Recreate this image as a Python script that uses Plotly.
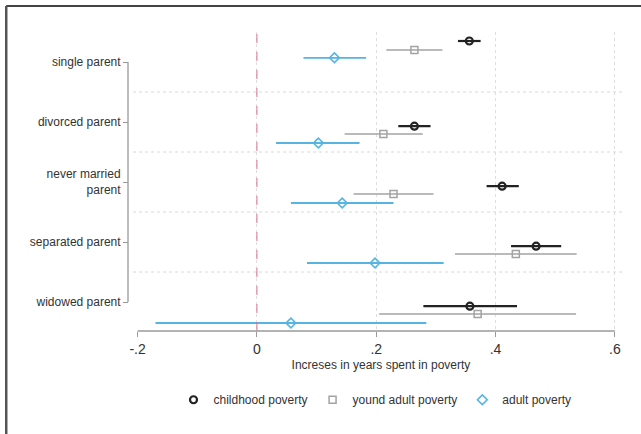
import plotly.graph_objects as go

categories = ["single parent", "divorced parent", "never married<br>parent",
              "separated parent", "widowed parent"]

child_est = [0.356, 0.264, 0.411, 0.468, 0.357]
child_lo = [0.337, 0.237, 0.385, 0.426, 0.279]
child_hi = [0.375, 0.291, 0.439, 0.510, 0.436]

young_est = [0.264, 0.212, 0.229, 0.434, 0.370]
young_lo = [0.217, 0.147, 0.162, 0.332, 0.205]
young_hi = [0.311, 0.278, 0.296, 0.536, 0.535]

adult_est = [0.130, 0.103, 0.143, 0.198, 0.057]
adult_lo = [0.078, 0.032, 0.057, 0.084, -0.170]
adult_hi = [0.183, 0.172, 0.229, 0.313, 0.284]

x_ticks = [-0.2, 0, 0.2, 0.4, 0.6]
x_tick_labels = ["-.2", "0", ".2", ".4", ".6"]

# vertical placement of each series within a category row (layout only)
child_pos = [-0.35, 1.07, 2.07, 3.07, 4.07]
young_pos = [-0.20, 1.20, 2.20, 3.20, 4.20]
adult_pos = [-0.07, 1.35, 2.35, 3.35, 4.35]

series = [
    ("childhood poverty", child_est, child_lo, child_hi, child_pos, "#222222", "circle-open", 7, 2.2, 2.2),
    ("yound adult poverty", young_est, young_lo, young_hi, young_pos, "#a3a3a3", "square-open", 7, 1.5, 1.6),
    ("adult poverty", adult_est, adult_lo, adult_hi, adult_pos, "#55b4e2", "diamond-open", 7.5, 1.6, 1.8),
]

fig = go.Figure()
for name, est, lo, hi, pos, color, sym, size, mlw, elw in series:
    fig.add_trace(go.Scatter(
        x=est, y=pos, mode="markers", name=name,
        marker=dict(symbol=sym, size=size, color=color, line=dict(color=color, width=mlw)),
        error_x=dict(type="data", symmetric=False,
                     array=[h - e for h, e in zip(hi, est)],
                     arrayminus=[e - l for e, l in zip(est, lo)],
                     color=color, thickness=elw, width=0),
    ))

shapes = []
# horizontal dotted gridlines between categories
for b in [0.5, 1.5, 2.5, 3.5]:
    shapes.append(dict(type="line", xref="x domain", yref="y", x0=-0.008, x1=1, y0=b, y1=b,
                       line=dict(color="#d8d8d8", width=1, dash="dot"), layer="below"))
# zero reference line
shapes.append(dict(type="line", xref="x", yref="y domain", x0=0, x1=0, y0=0, y1=1,
                   line=dict(color="#d9728a", width=1, dash="dash")))
# y axis line
shapes.append(dict(type="line", xref="paper", yref="y", x0=0, x1=0, y0=0, y1=4,
                   line=dict(color="#9a9a9a", width=1.3)))
# x axis line
shapes.append(dict(type="line", xref="x", yref="y domain", x0=-0.2, x1=0.6, y0=0, y1=0,
                   line=dict(color="#9a9a9a", width=1.3)))
# outer frame (top and left edges)
shapes.append(dict(type="line", xref="paper", yref="paper", x0=-0.245, x1=1.04, y0=1.087, y1=1.087,
                   line=dict(color="#444444", width=2)))
shapes.append(dict(type="line", xref="paper", yref="paper", x0=-0.245, x1=-0.245, y0=1.087, y1=-0.4,
                   line=dict(color="#555555", width=2.5)))

fig.update_layout(
    width=641, height=434,
    margin=dict(l=128, r=16, t=32, b=103),
    paper_bgcolor="white", plot_bgcolor="white",
    font=dict(family="Liberation Sans, Arial, sans-serif", size=12, color="#333333"),
    showlegend=True,
    legend=dict(orientation="h", x=0.497, xanchor="center", y=-0.23, yanchor="middle",
                font=dict(size=12, color="#333333"), itemwidth=30, tracegroupgap=0),
    xaxis=dict(domain=[9 / 497, 1], range=[-0.201, 0.617], tickvals=x_ticks, ticktext=x_tick_labels,
               ticks="outside", ticklen=5, tickcolor="#9a9a9a", tickwidth=1.3,
               tickfont=dict(size=14, color="#333333"),
               showgrid=True, gridcolor="#dedede", griddash="dot", gridwidth=1,
               zeroline=False, showline=False,
               title=dict(text="Increses in years spent in poverty", font=dict(size=12, color="#333333"),
                          standoff=4)),
    yaxis=dict(range=[4.483, -0.5], tickvals=[0, 1, 2, 3, 4], ticktext=categories,
               anchor="free", position=0, ticks="outside", ticklen=5, tickcolor="#9a9a9a", tickwidth=1.3,
               tickfont=dict(size=12, color="#333333"),
               showgrid=False, zeroline=False, showline=False),
    shapes=shapes,
)

fig.write_html("out.html", config={"displayModeBar": False},
               post_script="document.body.style.margin='0';")
